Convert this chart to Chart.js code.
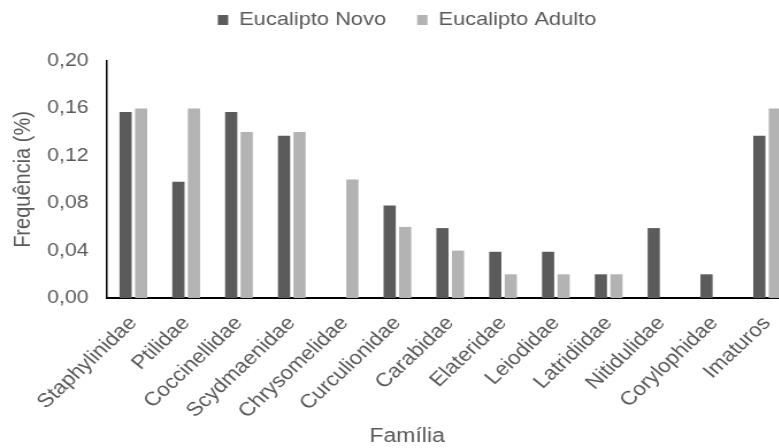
<!DOCTYPE html>
<html lang="pt">
<head>
<meta charset="utf-8">
<title>Frequência de famílias</title>
<script src="https://cdn.jsdelivr.net/npm/chart.js@4/dist/chart.umd.min.js"></script>
<style>
  html, body { margin: 0; padding: 0; background: #ffffff; overflow: hidden; width: 779px; height: 448px; }
  #wrap { position: absolute; left: 0; top: 0; width: 713px; height: 448px; transform: scaleX(1.15); transform-origin: 0 0; }
  canvas { display: block; }
</style>
</head>
<body>
<div id="wrap"><canvas id="chart" width="713" height="448"></canvas></div>
<script>
// Famílias amostradas
const familias = [
  'Staphylinidae', 'Ptilidae', 'Coccinellidae', 'Scydmaenidae', 'Chrysomelidae',
  'Curculionidae', 'Carabidae', 'Elateridae', 'Leiodidae', 'Latridiidae',
  'Nitidulidae', 'Corylophidae', 'Imaturos'
];

// Frequência relativa em cada plantio
const eucaliptoNovo = [0.157, 0.098, 0.157, 0.137, 0, 0.078, 0.059, 0.039, 0.039, 0.020, 0.059, 0.020, 0.137];
const eucaliptoAdulto = [0.160, 0.160, 0.140, 0.140, 0.100, 0.060, 0.040, 0.020, 0.020, 0.020, 0, 0, 0.160];

// Marcas do eixo Y
const yTicks = [0, 0.04, 0.08, 0.12, 0.16, 0.20];

const FONT = "'Liberation Sans', Arial, sans-serif";
const TEXT = '#595959';
const LEGEND_GAP = 21.5;

// Extra room between the legend and the plot area
const legendGap = {
  id: 'legendGap',
  beforeInit(chart) {
    const lg = chart.legend;
    if (!lg) return;
    const fit = lg.fit;
    lg.fit = function () { fit.call(this); this.height += LEGEND_GAP; };
  }
};

new Chart(document.getElementById('chart'), {
  type: 'bar',
  data: {
    labels: familias,
    datasets: [
      { label: 'Eucalipto Novo', data: eucaliptoNovo, backgroundColor: '#5b5b5b', borderWidth: 0 },
      { label: 'Eucalipto Adulto', data: eucaliptoAdulto, backgroundColor: '#b3b3b3', borderWidth: 0 }
    ]
  },
  options: {
    responsive: false,
    animation: false,
    events: [],
    categoryPercentage: 0.588,
    barPercentage: 0.785,
    layout: { padding: { top: -16.5, left: 18, right: 23, bottom: 0 } },
    plugins: {
      tooltip: { enabled: false },
      legend: {
        position: 'top',
        align: 'center',
        labels: {
          font: { family: FONT, size: 19 },
          color: TEXT,
          boxWidth: 9,
          boxHeight: 10,
          padding: 27
        }
      },
      title: {
        display: true,
        text: 'Família',
        position: 'bottom',
        color: TEXT,
        font: { family: FONT, size: 20, weight: 'normal' },
        padding: { top: 0, bottom: 0 }
      }
    },
    scales: {
      x: {
        offset: true,
        grid: { display: false, drawTicks: false },
        border: { display: true, color: '#000000', width: 2 },
        ticks: {
          autoSkip: false,
          minRotation: 47,
          maxRotation: 47,
          padding: 14,
          color: TEXT,
          font: { family: FONT, size: 19.5 }
        },
        afterFit(scale) { scale.height = 126; }
      },
      y: {
        min: 0,
        max: 0.2,
        grid: { display: false, drawTicks: false },
        border: { display: true, color: '#000000', width: 1.5 },
        afterBuildTicks(scale) { scale.ticks = yTicks.map(v => ({ value: v })); },
        ticks: {
          padding: 16,
          color: TEXT,
          font: { family: FONT, size: 18.5 },
          callback: v => v.toFixed(2).replace('.', ',')
        },
        title: {
          display: true,
          text: 'Frequência (%)',
          color: TEXT,
          font: { family: FONT, size: 20 },
          padding: { top: -9.5, bottom: 0 }
        },
        afterFit(scale) { scale.width = 75; }
      }
    }
  },
  plugins: [legendGap]
});
</script>
</body>
</html>
